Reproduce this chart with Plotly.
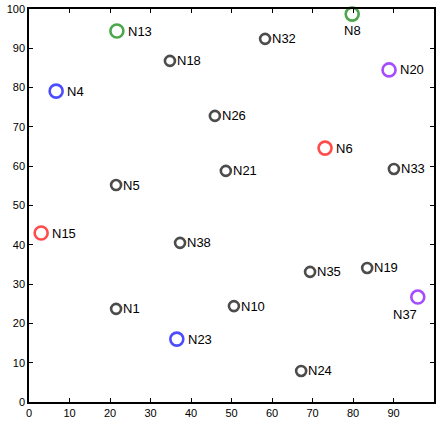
import plotly.graph_objects as go

names = ["N13", "N4", "N18", "N32", "N8", "N20", "N26", "N6", "N21", "N33",
         "N5", "N15", "N38", "N35", "N19", "N37", "N1", "N10", "N23", "N24"]
x_vals = [21.7, 6.7, 34.8, 58.3, 79.8, 88.9, 45.9, 73.1, 48.6, 90.1,
          21.5, 3.0, 37.3, 69.4, 83.5, 96.0, 21.5, 50.6, 36.5, 67.2]
y_vals = [94.4, 79.1, 86.8, 92.4, 98.7, 84.5, 72.8, 64.6, 58.8, 59.3,
          55.2, 43.0, 40.5, 33.1, 34.1, 26.7, 23.7, 24.4, 16.0, 7.9]
groups = ["green", "blue", "black", "black", "green", "purple", "black", "red", "black", "black",
          "black", "red", "black", "black", "black", "purple", "black", "black", "blue", "black"]

color_map = {"black": "#000000", "green": "#008000", "blue": "#0000ff",
             "red": "#ff0000", "purple": "#8000ff"}

colors = [color_map[g] for g in groups]
sizes = [10 if g == "black" else 13 for g in groups]

font = dict(family="Liberation Sans, Arial, sans-serif", size=13, color="#000000")

fig = go.Figure(go.Scatter(
    x=x_vals, y=y_vals, mode="markers",
    marker=dict(symbol="circle-open", size=sizes, color=colors,
                line=dict(width=2.6, color=colors)),
    cliponaxis=False, showlegend=False, hoverinfo="skip",
))

annotations = []
for n, g, xv, yv in zip(names, groups, x_vals, y_vals):
    if n == "N8":
        annotations.append(dict(x=xv, y=yv, text=n, showarrow=False, font=font,
                                xanchor="center", yanchor="top", yshift=-7))
    elif n == "N37":
        annotations.append(dict(x=xv, y=yv, text=n, showarrow=False, font=font,
                                xanchor="center", yanchor="top", xshift=-13, yshift=-8))
    else:
        shift = 5 if g == "black" else 9
        annotations.append(dict(x=xv, y=yv, text=n, showarrow=False, font=font,
                                xanchor="left", yanchor="middle", xshift=shift))

axis_common = dict(
    showgrid=False, zeroline=False, showline=True, linecolor="#000000", linewidth=1.5,
    mirror="ticks", ticks="inside", ticklen=4, tickcolor="#000000", automargin=False,
    tickfont=dict(family="Liberation Sans, Arial, sans-serif", size=11, color="#000000"),
    dtick=10,
)
fig.update_xaxes(range=[0, 100], tick0=0, **axis_common)
fig.update_yaxes(range=[0, 100], tick0=0, **axis_common)

fig.update_layout(
    width=442, height=422,
    margin=dict(l=29, r=8, t=9, b=20),
    plot_bgcolor="#ffffff", paper_bgcolor="#ffffff",
    annotations=annotations,
)
fig.write_html("out.html", config={"displayModeBar": False},
               post_script="document.body.style.margin='0px';")
